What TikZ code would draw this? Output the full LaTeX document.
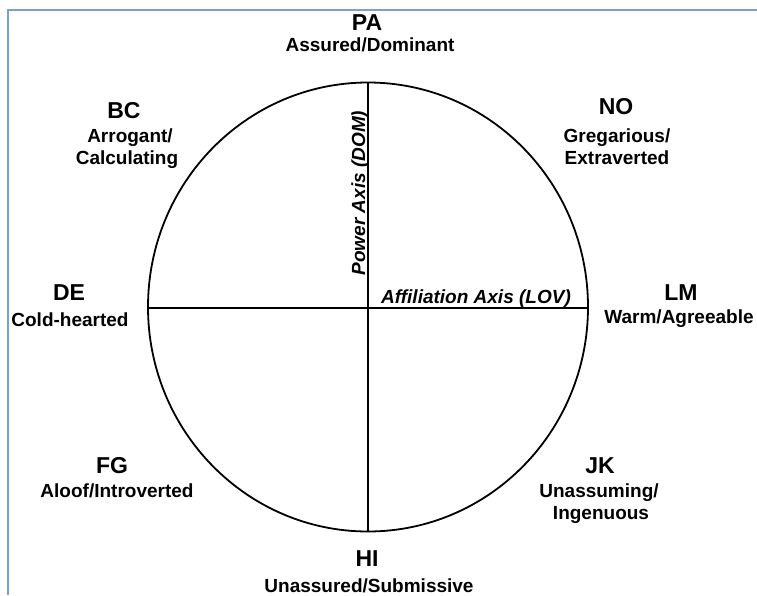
\documentclass[tikz,border=0pt]{standalone}
\usepackage{fontspec}
\setmainfont{Liberation Sans}
\begin{document}
\begin{tikzpicture}[x=1pt,y=-1pt,
  ttl/.style={font=\fontsize{23}{26}\selectfont\bfseries, anchor=base, inner sep=0pt},
  sub/.style={font=\fontsize{19}{22}\selectfont\bfseries, anchor=base, inner sep=0pt},
  axl/.style={font=\fontsize{19}{22}\selectfont\bfseries\itshape, inner sep=0pt},
  ln/.style={line width=1.8pt, black}]
\useasboundingbox (0,0) rectangle (757,595);
\fill[white] (0,0) rectangle (757,595);
% blue frame
\draw[line width=2.5pt, color={rgb,255:red,120;green,160;blue,215}] (8,595) -- (8,10) -- (757,10);
% circle and axes
\coordinate (c) at (368,307);
\coordinate (top) at (368,82);
\coordinate (bot) at (368,531);
\coordinate (lft) at (148,308);
\coordinate (rgt) at (588,308);
\draw[ln] (c) ellipse [x radius=220, y radius=224.5];
\draw[ln] (top) -- (bot);
\draw[ln] (lft) -- (rgt);
% axis labels
\node[axl, rotate=90, anchor=base] (pax) at (365,193) {Power Axis (DOM)};
\node[axl, anchor=base] (aax) at (476,303) {Affiliation Axis (LOV)};
% octant labels
\node[ttl] (pa) at (367,30) {PA};
\node[sub] (pas) at (370,51) {Assured/Dominant};
\node[ttl] (bc) at (124,118) {BC};
\node[sub] (bcs1) at (130,142) {Arrogant/};
\node[sub] (bcs2) at (127,164) {Calculating};
\node[ttl] (no) at (616,114) {NO};
\node[sub] (nos1) at (617,142) {Gregarious/};
\node[sub] (nos2) at (617,164) {Extraverted};
\node[ttl] (de) at (69,300) {DE};
\node[sub] (des) at (70,326) {Cold-hearted};
\node[ttl] (lm) at (681,300) {LM};
\node[sub] (lms) at (679,323) {Warm/Agreeable};
\node[ttl] (fg) at (112,473) {FG};
\node[sub] (fgs) at (117,497) {Aloof/Introverted};
\node[ttl] (jk) at (600,473) {JK};
\node[sub] (jks1) at (599,497) {Unassuming/};
\node[sub] (jks2) at (601,519) {Ingenuous};
\node[ttl] (hi) at (367,566) {HI};
\node[sub] (his) at (369,592) {Unassured/Submissive};
\end{tikzpicture}
\end{document}
